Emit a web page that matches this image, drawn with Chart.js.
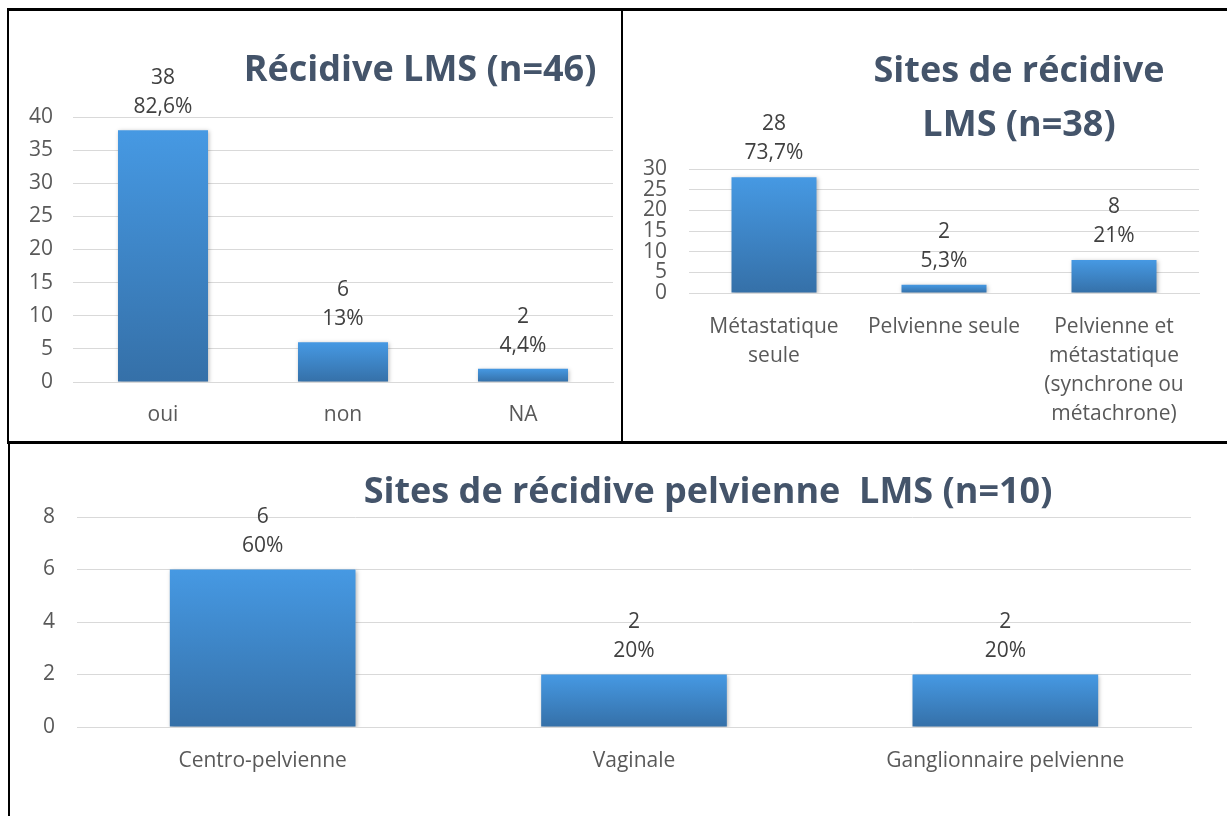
<!DOCTYPE html>
<html>
<head>
<meta charset="utf-8">
<script src="https://cdn.jsdelivr.net/npm/chart.js@4/dist/chart.umd.min.js"></script>
<style>
    body { margin: 0; background: #fff; width: 1227px; height: 816px; overflow: hidden; position: relative; }
    .ln { position: absolute; background: #000; }
    .box { position: absolute; }
</style>
</head>
<body>
<div class="ln" style="left:7px;top:8px;width:1220px;height:3px"></div>
<div class="ln" style="left:7px;top:8px;width:2px;height:436px"></div>
<div class="ln" style="left:621px;top:8px;width:2px;height:436px"></div>
<div class="ln" style="left:7px;top:441px;width:1220px;height:3px"></div>
<div class="ln" style="left:8px;top:443px;width:2px;height:373px"></div>

<div class="box" style="left:9px;top:11px;width:612px;height:430px"><canvas id="c1"></canvas></div>
<div class="box" style="left:624px;top:11px;width:602px;height:430px"><canvas id="c2"></canvas></div>
<div class="box" style="left:10px;top:447px;width:1217px;height:369px"><canvas id="c3"></canvas></div>

<script>
// data
var recidiveLabels = ['oui', 'non', 'NA'];
var recidiveValues = [38, 6, 2];
var recidivePct = ['82,6%', '13%', '4,4%'];

var sitesLabels = [['Métastatique', 'seule'], 'Pelvienne seule', ['Pelvienne et', 'métastatique', '(synchrone ou', 'métachrone)']];
var sitesValues = [28, 2, 8];
var sitesPct = ['73,7%', '5,3%', '21%'];

var pelvLabels = ['Centro-pelvienne', 'Vaginale', 'Ganglionnaire pelvienne'];
var pelvValues = [6, 2, 2];
var pelvPct = ['60%', '20%', '20%'];

var FONT = 'Open Sans';
var TXT = 21;
Chart.defaults.font.family = FONT;
Chart.defaults.animation = false;

var TICK_COLOR = '#595959';
var GRID_COLOR = '#D9D9D9';
var TITLE_COLOR = '#44546A';

// gradient for each bar, light on top, dark at the bottom
function barGradient(context) {
    var chart = context.chart;
    if (!chart.chartArea || context.dataIndex == null) return '#4095DD';
    var y = chart.scales.y;
    var v = context.dataset.data[context.dataIndex];
    var top = y.getPixelForValue(v);
    var bot = y.getPixelForValue(0);
    var g = chart.ctx.createLinearGradient(0, top, 0, bot);
    g.addColorStop(0, '#4699E3');
    g.addColorStop(1, '#3570A8');
    return g;
}

var barLabels = {
    id: 'barLabels',
    afterDatasetsDraw: function (chart, args, opts) {
        var ctx = chart.ctx;
        var meta = chart.getDatasetMeta(0);
        ctx.save();
        ctx.font = TXT + 'px ' + FONT;
        ctx.fillStyle = '#404040';
        ctx.textAlign = 'center';
        ctx.textBaseline = 'middle';
        meta.data.forEach(function (bar, i) {
            ctx.fillText(String(chart.data.datasets[0].data[i]), bar.x, bar.y - opts.gap - 29);
            ctx.fillText(opts.pct[i], bar.x, bar.y - opts.gap);
        });
        ctx.restore();
    }
};

var barShadow = {
    id: 'barShadow',
    beforeDatasetsDraw: function (chart) {
        chart.ctx.save();
        chart.ctx.shadowColor = 'rgba(0,0,0,0.28)';
        chart.ctx.shadowBlur = 4;
        chart.ctx.shadowOffsetX = 1;
        chart.ctx.shadowOffsetY = 1;
    },
    afterDatasetsDraw: function (chart) {
        chart.ctx.restore();
    }
};

var panelTitle = {
    id: 'panelTitle',
    afterDraw: function (chart, args, opts) {
        var ctx = chart.ctx;
        ctx.save();
        ctx.font = 'bold ' + opts.size + 'px ' + FONT;
        ctx.fillStyle = TITLE_COLOR;
        ctx.textAlign = 'center';
        ctx.textBaseline = 'middle';
        opts.lines.forEach(function (t, i) {
            ctx.fillText(t, opts.x, opts.y + i * opts.lineGap);
        });
        ctx.restore();
    }
};

function makeChart(id, labels, values, pct, cfg) {
    return new Chart(document.getElementById(id), {
        type: 'bar',
        data: {
            labels: labels,
            datasets: [{
                data: values,
                backgroundColor: barGradient,
                borderWidth: 0,
                barPercentage: 0.5,
                categoryPercentage: 1
            }]
        },
        plugins: [barShadow, barLabels, panelTitle],
        options: {
            responsive: true,
            maintainAspectRatio: false,
            layout: { padding: { top: cfg.padTop, right: cfg.padRight, left: 0, bottom: 0 } },
            plugins: {
                legend: { display: false },
                tooltip: { enabled: false },
                barLabels: { pct: pct, gap: cfg.labelGap },
                panelTitle: cfg.title
            },
            scales: {
                x: {
                    grid: { display: false, drawTicks: false },
                    border: { color: GRID_COLOR },
                    ticks: {
                        color: TICK_COLOR,
                        padding: cfg.xPad,
                        maxRotation: 0,
                        autoSkip: false,
                        font: { size: TXT, lineHeight: 29 / TXT }
                    },
                    afterFit: function (s) { s.height = cfg.xHeight; }
                },
                y: {
                    min: 0,
                    max: cfg.yMax,
                    grid: { color: GRID_COLOR, drawTicks: false },
                    border: { display: false },
                    ticks: {
                        stepSize: cfg.step,
                        color: TICK_COLOR,
                        padding: cfg.yPad,
                        autoSkip: false,
                        font: { size: TXT }
                    },
                    afterFit: function (s) { s.width = cfg.yWidth; }
                }
            }
        }
    });
}

makeChart('c1', recidiveLabels, recidiveValues, recidivePct, {
    padTop: 106, padRight: 8, yWidth: 64, xHeight: 59, yMax: 40, step: 5,
    xPad: 19, yPad: 20, labelGap: 23,
    title: { lines: ['Récidive LMS (n=46)'], x: 411, y: 60, size: 36, lineGap: 54 }
});

makeChart('c2', sitesLabels, sitesValues, sitesPct, {
    padTop: 158, padRight: 27, yWidth: 65, xHeight: 148, yMax: 30, step: 5,
    xPad: 20, yPad: 22, labelGap: 24,
    title: { lines: ['Sites de récidive', 'LMS (n=38)'], x: 395, y: 61, size: 36, lineGap: 54 }
});

makeChart('c3', pelvLabels, pelvValues, pelvPct, {
    padTop: 70, padRight: 36, yWidth: 67, xHeight: 89, yMax: 8, step: 2,
    xPad: 20, yPad: 22, labelGap: 23,
    title: { lines: ['Sites de récidive pelvienne  LMS (n=10)'], x: 698, y: 46, size: 36, lineGap: 54 }
});
</script>
</body>
</html>
